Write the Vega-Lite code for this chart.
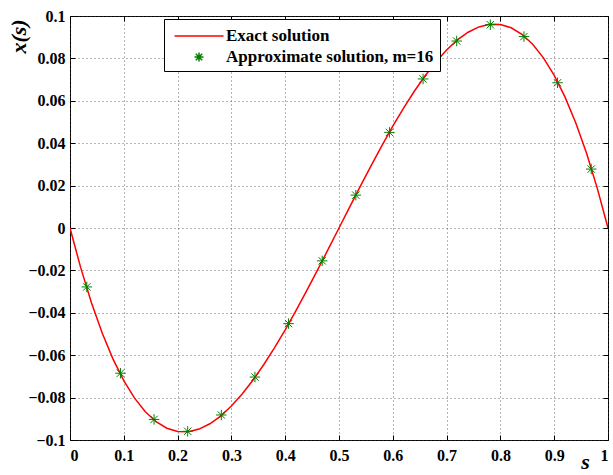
{
  "$schema": "https://vega.github.io/schema/vega-lite/v6.json",
  "width": 538,
  "height": 424,
  "autosize": "none",
  "padding": {"left": 70, "top": 16, "right": 5, "bottom": 35},
  "background": "white",
  "config": {
    "view": {"stroke": "black", "strokeWidth": 1},
    "font": "Liberation Serif",
    "axis": {
      "labelFont": "Liberation Serif",
      "labelFontWeight": "bold",
      "labelFontSize": 16,
      "labelColor": "black",
      "domain": false,
      "tickColor": "black",
      "tickSize": -5,
      "gridColor": "#444444",
      "gridDash": [1, 3],
      "gridOpacity": 0.8
    },
    "legend": {
      "strokeColor": "black",
      "fillColor": "white",
      "padding": 6,
      "labelFont": "Liberation Serif",
      "labelFontSize": 17,
      "labelFontWeight": "bold",
      "labelColor": "black",
      "symbolSize": 400,
      "symbolStrokeWidth": 1.5,
      "symbolOffset": 18,
      "labelOffset": 16,
      "rowPadding": 2,
      "labelLimit": 400
    }
  },
  "data": {
    "values": [
      {"s": 0, "x": 0, "series": "Exact solution"},
      {"s": 0.02, "x": -0.018816, "series": "Exact solution"},
      {"s": 0.04, "x": -0.035328, "series": "Exact solution"},
      {"s": 0.06, "x": -0.049632, "series": "Exact solution"},
      {"s": 0.08, "x": -0.061824, "series": "Exact solution"},
      {"s": 0.1, "x": -0.072, "series": "Exact solution"},
      {"s": 0.12, "x": -0.080256, "series": "Exact solution"},
      {"s": 0.14, "x": -0.086688, "series": "Exact solution"},
      {"s": 0.16, "x": -0.091392, "series": "Exact solution"},
      {"s": 0.18, "x": -0.094464, "series": "Exact solution"},
      {"s": 0.2, "x": -0.096, "series": "Exact solution"},
      {"s": 0.22, "x": -0.096096, "series": "Exact solution"},
      {"s": 0.24, "x": -0.094848, "series": "Exact solution"},
      {"s": 0.26, "x": -0.092352, "series": "Exact solution"},
      {"s": 0.28, "x": -0.088704, "series": "Exact solution"},
      {"s": 0.3, "x": -0.084, "series": "Exact solution"},
      {"s": 0.32, "x": -0.078336, "series": "Exact solution"},
      {"s": 0.34, "x": -0.071808, "series": "Exact solution"},
      {"s": 0.36, "x": -0.064512, "series": "Exact solution"},
      {"s": 0.38, "x": -0.056544, "series": "Exact solution"},
      {"s": 0.4, "x": -0.048, "series": "Exact solution"},
      {"s": 0.42, "x": -0.038976, "series": "Exact solution"},
      {"s": 0.44, "x": -0.029568, "series": "Exact solution"},
      {"s": 0.46, "x": -0.019872, "series": "Exact solution"},
      {"s": 0.48, "x": -0.009984, "series": "Exact solution"},
      {"s": 0.5, "x": 0, "series": "Exact solution"},
      {"s": 0.52, "x": 0.009984, "series": "Exact solution"},
      {"s": 0.54, "x": 0.019872, "series": "Exact solution"},
      {"s": 0.56, "x": 0.029568, "series": "Exact solution"},
      {"s": 0.58, "x": 0.038976, "series": "Exact solution"},
      {"s": 0.6, "x": 0.048, "series": "Exact solution"},
      {"s": 0.62, "x": 0.056544, "series": "Exact solution"},
      {"s": 0.64, "x": 0.064512, "series": "Exact solution"},
      {"s": 0.66, "x": 0.071808, "series": "Exact solution"},
      {"s": 0.68, "x": 0.078336, "series": "Exact solution"},
      {"s": 0.7, "x": 0.084, "series": "Exact solution"},
      {"s": 0.72, "x": 0.088704, "series": "Exact solution"},
      {"s": 0.74, "x": 0.092352, "series": "Exact solution"},
      {"s": 0.76, "x": 0.094848, "series": "Exact solution"},
      {"s": 0.78, "x": 0.096096, "series": "Exact solution"},
      {"s": 0.8, "x": 0.096, "series": "Exact solution"},
      {"s": 0.82, "x": 0.094464, "series": "Exact solution"},
      {"s": 0.84, "x": 0.091392, "series": "Exact solution"},
      {"s": 0.86, "x": 0.086688, "series": "Exact solution"},
      {"s": 0.88, "x": 0.080256, "series": "Exact solution"},
      {"s": 0.9, "x": 0.072, "series": "Exact solution"},
      {"s": 0.92, "x": 0.061824, "series": "Exact solution"},
      {"s": 0.94, "x": 0.049632, "series": "Exact solution"},
      {"s": 0.96, "x": 0.035328, "series": "Exact solution"},
      {"s": 0.98, "x": 0.018816, "series": "Exact solution"},
      {"s": 1, "x": 0, "series": "Exact solution"},
      {"s": 0.03125, "x": -0.0278, "series": "Approximate solution, m=16"},
      {"s": 0.09375, "x": -0.0685, "series": "Approximate solution, m=16"},
      {"s": 0.15625, "x": -0.0903, "series": "Approximate solution, m=16"},
      {"s": 0.21875, "x": -0.0959, "series": "Approximate solution, m=16"},
      {"s": 0.28125, "x": -0.0882, "series": "Approximate solution, m=16"},
      {"s": 0.34375, "x": -0.0703, "series": "Approximate solution, m=16"},
      {"s": 0.40625, "x": -0.0451, "series": "Approximate solution, m=16"},
      {"s": 0.46875, "x": -0.0155, "series": "Approximate solution, m=16"},
      {"s": 0.53125, "x": 0.0155, "series": "Approximate solution, m=16"},
      {"s": 0.59375, "x": 0.0451, "series": "Approximate solution, m=16"},
      {"s": 0.65625, "x": 0.0703, "series": "Approximate solution, m=16"},
      {"s": 0.71875, "x": 0.0882, "series": "Approximate solution, m=16"},
      {"s": 0.78125, "x": 0.0959, "series": "Approximate solution, m=16"},
      {"s": 0.84375, "x": 0.0903, "series": "Approximate solution, m=16"},
      {"s": 0.90625, "x": 0.0685, "series": "Approximate solution, m=16"},
      {"s": 0.96875, "x": 0.0278, "series": "Approximate solution, m=16"}
    ]
  },
  "layer": [
    {
      "transform": [{"filter": "datum.series === 'Exact solution'"}],
      "mark": {"type": "line", "strokeWidth": 1.5, "clip": true},
      "encoding": {
        "x": {
          "field": "s", "type": "quantitative",
          "scale": {"domain": [0, 1], "nice": false, "zero": false},
          "axis": {
            "orient": "bottom",
            "values": [0, 0.1, 0.2, 0.3, 0.4, 0.5, 0.6, 0.7, 0.8, 0.9, 1],
            "format": "~g",
            "grid": true,
            "labelPadding": 12,
            "labelBaseline": "top",
            "title": "s",
            "titleFont": "Liberation Serif",
            "titleFontSize": 22,
            "titleFontWeight": "bold",
            "titleFontStyle": "italic",
            "titleX": 515,
            "titleY": 28,
            "titleAlign": "center",
            "titleBaseline": "alphabetic"
          }
        },
        "y": {
          "field": "x", "type": "quantitative",
          "scale": {"domain": [-0.1, 0.1], "nice": false, "zero": false},
          "axis": {
            "orient": "left",
            "values": [-0.1, -0.08, -0.06, -0.04, -0.02, 0, 0.02, 0.04, 0.06, 0.08, 0.1],
            "format": "~g",
            "grid": true,
            "labelPadding": 10,
            "title": "x(s)",
            "titleFont": "Liberation Serif",
            "titleFontSize": 22,
            "titleFontWeight": "bold",
            "titleFontStyle": "italic",
            "titleAngle": -90,
            "titleX": -52,
            "titleY": 20,
            "titleAlign": "center",
            "titleBaseline": "middle"
          }
        },
        "color": {
          "field": "series", "type": "nominal",
          "scale": {"domain": ["Exact solution", "Approximate solution, m=16"], "range": ["#ff0000", "#008000"]},
          "legend": {
            "orient": "none",
            "legendX": 94,
            "legendY": 3,
            "title": null,
            "direction": "vertical",
            "labelExpr": "datum.label + '   '",
            "encode": {
              "symbols": {
                "update": {
                  "shape": {"signal": "datum.value === 'Exact solution' ? 'M-2.45,0L2.45,0' : 'M-0.45,0L0.45,0M0,-0.45L0,0.45M-0.32,-0.32L0.32,0.32M-0.32,0.32L0.32,-0.32'"},
                  "fill": {"value": "transparent"}
                }
              }
            }
          }
        }
      }
    },
    {
      "transform": [{"filter": "datum.series !== 'Exact solution'"}],
      "mark": {"type": "point", "filled": false, "size": 110, "strokeWidth": 1, "opacity": 1, "shape": "M-1,0L1,0M0,-1L0,1M-0.7,-0.7L0.7,0.7M-0.7,0.7L0.7,-0.7"},
      "encoding": {
        "x": {"field": "s", "type": "quantitative", "axis": {"orient": "top", "values": [0, 0.1, 0.2, 0.3, 0.4, 0.5, 0.6, 0.7, 0.8, 0.9, 1], "labels": false, "grid": false, "title": null}},
        "y": {"field": "x", "type": "quantitative", "axis": {"orient": "right", "values": [-0.1, -0.08, -0.06, -0.04, -0.02, 0, 0.02, 0.04, 0.06, 0.08, 0.1], "labels": false, "grid": false, "title": null}},
        "color": {"field": "series", "type": "nominal"}
      }
    }
  ]
}
